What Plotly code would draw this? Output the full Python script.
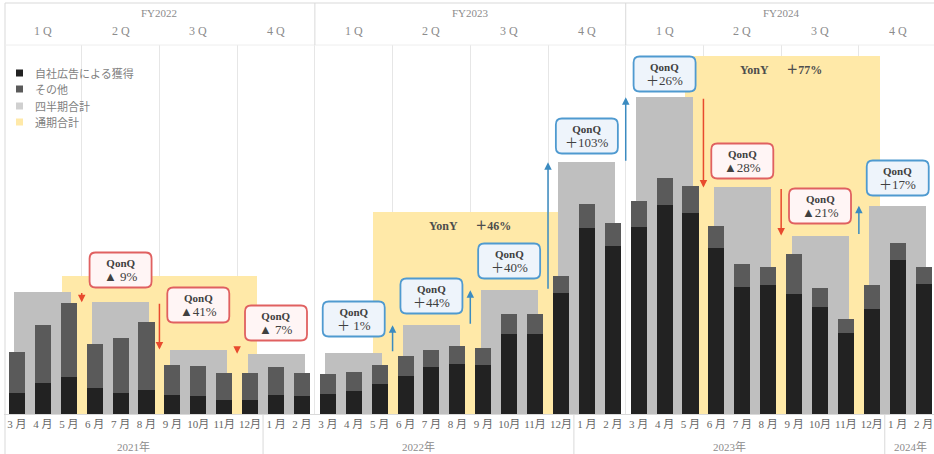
import plotly.graph_objects as go

# ---------------- data ----------------
month_labels = ["3 月", "4 月", "5 月", "6 月", "7 月", "8 月", "9 月", "10月", "11月", "12月", "1 月", "2 月",
                "3 月", "4 月", "5 月", "6 月", "7 月", "8 月", "9 月", "10月", "11月", "12月", "1 月", "2 月",
                "3 月", "4 月", "5 月", "6 月", "7 月", "8 月", "9 月", "10月", "11月", "12月", "1 月", "2 月"]

own_ads = [20.7, 31.3, 37.3, 26.3, 20.7, 23.7, 19.0, 17.7, 13.7, 13.7, 19.3, 17.7,
           20.0, 23.0, 30.0, 38.0, 46.7, 50.0, 48.7, 80.0, 79.7, 120.7, 185.7, 167.7,
           187.3, 209.0, 200.7, 165.7, 127.3, 129.0, 119.7, 107.3, 80.7, 105.0, 154.0, 129.7]

other = [41.6, 57.7, 73.4, 43.7, 55.6, 68.6, 30.3, 30.6, 27.0, 27.6, 27.4, 23.6,
         20.0, 19.0, 19.0, 19.7, 17.6, 17.7, 17.0, 19.7, 20.0, 17.6, 24.3, 23.3,
         26.0, 27.3, 27.3, 22.6, 22.4, 17.7, 40.6, 19.0, 14.6, 24.0, 16.7, 17.0]

quarterly = [262, 239, 138, 129, 131, 190, 265, 539, 678, 485, 382, 446]
annual = [768, 1125, 1991]

quarter_labels = ["1 Q", "2 Q", "3 Q", "4 Q"]
fy_labels = ["FY2022", "FY2023", "FY2024"]
year_labels = ["2021年", "2022年", "2023年", "2024年"]
qonq_labels = ["▲ 9%", "▲41%", "▲ 7%", "＋ 1%", "＋44%", "＋40%", "＋103%", "＋26%", "▲28%", "▲21%", "＋17%"]
yony_labels = ["＋46%", "＋77%"]
legend_names = ["自社広告による獲得", "その他", "四半期合計", "通期合計"]

# ---------------- layout constants ----------------
W, H = 934, 454
ML, MR, MT, MB = 4, 0, 45, 40
PW = W - ML - MR
PH = H - MT - MB
X_RANGE = [-0.5, 35.4]

C_OWN = "#222222"
C_OTHER = "#5a5a5a"
C_QUARTER = "#bfbfbf"
C_YEAR = "#ffe9a8"
RED_LINE, RED_FILL, RED_ARROW = "#e06060", "#fff5f5", "#e84a2e"
BLUE_LINE, BLUE_FILL, BLUE_ARROW = "#4f9ad0", "#eef4fb", "#3b8bc0"
SERIF = "Liberation Serif, Noto Sans CJK JP"
SANS_JP = "Noto Sans CJK JP"


def xp(v):
    return (v - X_RANGE[0]) / (X_RANGE[1] - X_RANGE[0])


def yp(py):
    return (H - MB - py) / PH


def pxp(px):
    return (px - ML) / PW


def rounded_box(cx, cy, w, h, r):
    x0, x1 = cx - w / 2, cx + w / 2
    y0, y1 = cy - h / 2, cy + h / 2
    pts = [("M", [(x0 + r, y0)]), ("L", [(x1 - r, y0)]), ("Q", [(x1, y0), (x1, y0 + r)]),
           ("L", [(x1, y1 - r)]), ("Q", [(x1, y1), (x1 - r, y1)]), ("L", [(x0 + r, y1)]),
           ("Q", [(x0, y1), (x0, y1 - r)]), ("L", [(x0, y0 + r)]), ("Q", [(x0, y0), (x0 + r, y0)])]
    s = ""
    for cmd, ps in pts:
        s += cmd + " " + " ".join("%.5f,%.5f" % (pxp(a), yp(b)) for a, b in ps) + " "
    return s + "Z"


months_x = list(range(len(month_labels)))
quarter_x = [3 * q + 1 for q in range(len(quarterly))]
fy_x = [5.5, 17.3, 29.55]
fy_w = [7.5, 7.15, 7.5]

fig = go.Figure()
fig.add_trace(go.Bar(x=fy_x, y=annual, width=fy_w, marker=dict(color=C_YEAR, line=dict(width=0)),
                     yaxis="y", name=legend_names[3], showlegend=False))
fig.add_trace(go.Bar(x=quarter_x, y=quarterly, width=2.2, marker=dict(color=C_QUARTER, line=dict(width=0)),
                     yaxis="y2", name=legend_names[2], showlegend=False))
fig.add_trace(go.Bar(x=months_x, y=own_ads, width=0.62, marker=dict(color=C_OWN, line=dict(width=0)),
                     yaxis="y3", name=legend_names[0], showlegend=False))
fig.add_trace(go.Bar(x=months_x, y=other, width=0.62, marker=dict(color=C_OTHER, line=dict(width=0)),
                     yaxis="y3", name=legend_names[1], showlegend=False))

annotations = []
shapes = []

# QonQ arrows and rounded boxes
box_py = [270, 305, 323, 319, 296, 261, 136, 74, 161, 206, 178]
for q in range(1, len(quarterly)):
    prev, cur = quarterly[q - 1], quarterly[q]
    down = cur < prev
    bx = 3 * q - 0.5
    annotations.append(dict(x=bx, y=cur, xref="x", yref="y2", ax=bx, ay=prev, axref="x", ayref="y2",
                            text="", showarrow=True, arrowhead=2, arrowsize=1, arrowwidth=1.5,
                            arrowcolor=RED_ARROW if down else BLUE_ARROW, standoff=0, startstandoff=0))
    cx = ML + xp(quarter_x[q]) * PW
    shapes.append(dict(type="path", xref="paper", yref="paper", layer="above",
                       path=rounded_box(cx, box_py[q - 1], 62, 35, 6),
                       fillcolor=RED_FILL if down else BLUE_FILL,
                       line=dict(color=RED_LINE if down else BLUE_LINE, width=1.8)))
    annotations.append(dict(x=quarter_x[q], y=yp(box_py[q - 1]), xref="x", yref="paper",
                            xanchor="center", yanchor="middle",
                            text="<b>QonQ</b><br><span style='font-size:13px'>" + qonq_labels[q - 1] + "</span>",
                            showarrow=False, font=dict(family=SERIF, size=11, color="#404040")))

# YonY labels
yony_py = [226, 70]
yony_x = [17.5, 29.5]
for i, t in enumerate(yony_labels):
    annotations.append(dict(x=yony_x[i], y=yp(yony_py[i]), xref="x", yref="paper",
                            xanchor="center", yanchor="middle",
                            text="<b>YonY　  " + t + "</b>", showarrow=False,
                            font=dict(family=SERIF, size=12, color="#4d4d4d")))

# header labels
for i, t in enumerate(fy_labels):
    annotations.append(dict(x=12 * i + 5.5, y=yp(13), xref="x", yref="paper", text=t, showarrow=False,
                            xanchor="center", yanchor="middle",
                            font=dict(family=SERIF, size=11, color="#8c8c8c")))
for q in range(len(quarterly)):
    annotations.append(dict(x=quarter_x[q], y=yp(31), xref="x", yref="paper", text=quarter_labels[q % 4],
                            xanchor="center", yanchor="middle",
                            showarrow=False, font=dict(family=SERIF, size=12, color="#8c8c8c")))

# calendar-year labels
year_centers = [4.5, 15.5, 27.5, 34.5]
for i, t in enumerate(year_labels):
    annotations.append(dict(x=year_centers[i], y=yp(446), xref="x", yref="paper", text=t, showarrow=False,
                            xanchor="center", yanchor="middle",
                            font=dict(family=SERIF, size=11, color="#8c8c8c")))

# legend (manual)
legend_colors = [C_OWN, C_OTHER, "#d0d0d0", C_YEAR]
legend_py = [73, 89, 106, 122]
for i, name in enumerate(legend_names):
    shapes.append(dict(type="rect", xref="paper", yref="paper",
                       x0=pxp(16), x1=pxp(23),
                       y0=yp(legend_py[i] + 3.5), y1=yp(legend_py[i] - 3.5),
                       fillcolor=legend_colors[i], line=dict(width=0)))
    annotations.append(dict(x=pxp(33), y=yp(legend_py[i]), xref="paper", yref="paper",
                            xanchor="left", yanchor="middle", text=name, showarrow=False,
                            font=dict(family=SANS_JP, size=11, color="#7f7f7f")))

# frame / separators
LINE_C = "#d9d9d9"
shapes.append(dict(type="line", xref="paper", yref="paper", x0=pxp(5), x1=1, y0=yp(3), y1=yp(3),
                   line=dict(color=LINE_C, width=1)))
shapes.append(dict(type="line", xref="paper", yref="paper", x0=pxp(5), x1=pxp(5),
                   y0=yp(3), y1=yp(H), line=dict(color=LINE_C, width=1)))
shapes.append(dict(type="line", xref="paper", yref="paper", x0=pxp(5), x1=1, y0=1, y1=1,
                   line=dict(color="#eeeeee", width=1)))
for b in [11.5, 23.5]:
    shapes.append(dict(type="line", xref="paper", yref="paper", x0=xp(b), x1=xp(b), y0=1, y1=yp(3),
                       line=dict(color=LINE_C, width=1)))
for b in [9.5, 21.5, 33.5]:
    shapes.append(dict(type="line", xref="paper", yref="paper", x0=xp(b), x1=xp(b), y0=0, y1=yp(H),
                       line=dict(color=LINE_C, width=1)))

fig.update_layout(
    width=W, height=H,
    margin=dict(l=ML, r=MR, t=MT, b=MB, pad=0),
    paper_bgcolor="white", plot_bgcolor="white",
    barmode="stack", bargap=0, showlegend=False,
    xaxis=dict(range=X_RANGE, tickmode="array", tickvals=months_x, ticktext=month_labels, ticks="",
               showgrid=False, zeroline=False, showline=True, linecolor="#d9d9d9",
               tickfont=dict(family=SERIF, size=11, color="#666666"),
               minor=dict(tickmode="array", tickvals=[3 * k + 2.5 for k in range(11)], showgrid=True,
                          gridcolor="#e6e6e6", gridwidth=1, ticks="")),
    yaxis=dict(range=[0, 2050], visible=False),
    yaxis2=dict(range=[0, 790], overlaying="y", visible=False),
    yaxis3=dict(range=[0, 369], overlaying="y", visible=False),
    annotations=annotations,
    shapes=shapes,
)

fig.write_html("out.html", config={"displayModeBar": False},
               post_script="document.body.style.margin='0px';document.body.style.overflow='hidden';")
